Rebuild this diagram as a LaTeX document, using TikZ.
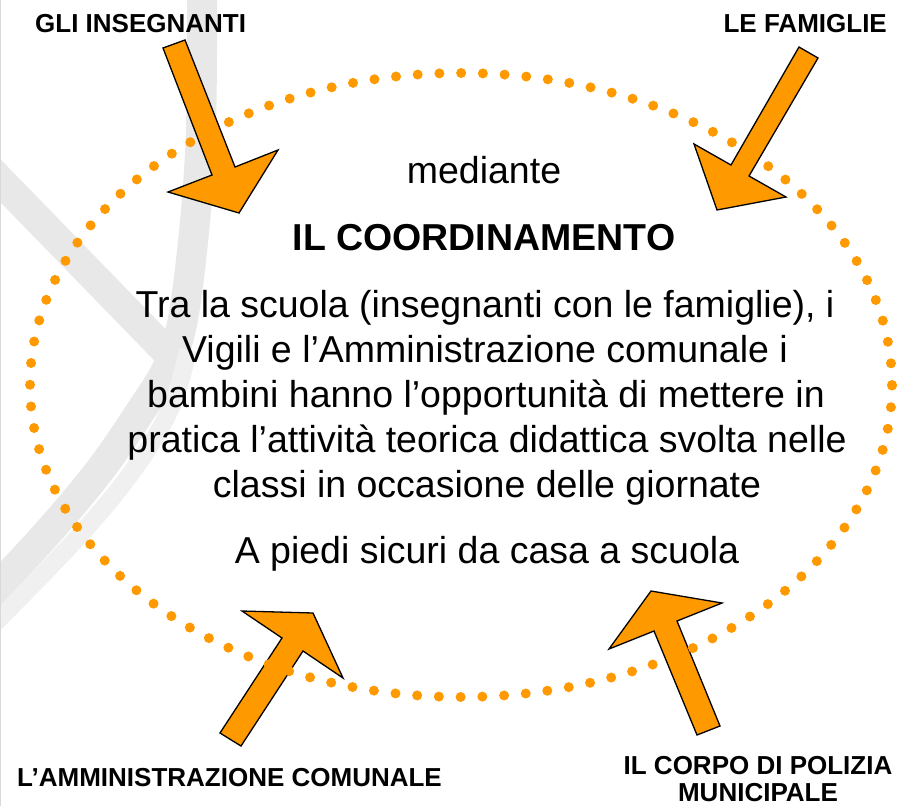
\documentclass[tikz,border=0pt]{standalone}
\usepackage{fontspec}
\setmainfont{Liberation Sans}
\definecolor{aor}{RGB}{255,153,0}
\definecolor{swg}{RGB}{232,232,232}
\definecolor{swl}{RGB}{240,240,240}
\begin{document}
\begin{tikzpicture}[x=1pt,y=-1pt,
  lab/.style={font=\fontsize{26}{29}\selectfont\bfseries, inner sep=0pt},
  body/.style={font=\fontsize{37.5}{45}\selectfont, inner sep=0pt},
  blockarrow/.style={fill=aor, draw=black, line width=1.3pt, line join=miter},
  swoosh/.style={draw=swg, line cap=butt, line join=round},
  dotring/.style={draw=aor, line width=10pt, line cap=round, dash pattern=on 0pt off 21.75pt}]
\useasboundingbox (0,0) rectangle (907,806);
\fill[white] (0,0) rectangle (907,806);
% background swooshes
\draw[swoosh, line width=30pt] plot[smooth, tension=0.6] coordinates {(202,-10) (200,154) (186,300) (170,362) (140,412) (100,470) (50,530) (-10,595)};
\draw[swoosh, line width=30pt] (-10,170) -- (165,350);
\draw[draw=swl, line width=18pt, line cap=butt] plot[smooth, tension=0.6] coordinates {(-10,628) (80,535) (137,465) (172,405) (188,350)};
\draw[gray!30, line width=0.8pt] (0.5,0) -- (0.5,806);
% block arrows
\draw[blockarrow] (163,48) -- (185,40) -- (235,167) -- (278,150) -- (239,213) -- (168,192) -- (212,175) -- cycle;
\draw[blockarrow] (799,47) -- (818,58) -- (749,176) -- (786,197) -- (717,210) -- (694,144) -- (731,165) -- cycle;
\draw[blockarrow] (220,733) -- (282,638) -- (242,611) -- (313,613) -- (343,678) -- (303,651) -- (241,746) -- cycle;
\draw[blockarrow] (697,735) -- (654,631) -- (609,649) -- (651,591) -- (722,603) -- (677,621) -- (720,726) -- cycle;
% dotted ring
\draw[dotring] (461,385) ellipse [x radius=431pt, y radius=312pt];
% labels
\node[lab, anchor=base west] (ins) at (35,32) {GLI INSEGNANTI};
\node[lab, anchor=base east] (fam) at (887,32) {LE FAMIGLIE};
\node[lab, anchor=base west] (amm) at (17,786) {L’AMMINISTRAZIONE COMUNALE};
\node[lab, anchor=base] (pol1) at (758,774) {IL CORPO DI POLIZIA};
\node[lab, anchor=base] (pol2) at (758,801) {MUNICIPALE};
% central text
\node[body, anchor=base] (med) at (484,183) {mediante};
\node[body, anchor=base, font=\fontsize{37.5}{45}\selectfont\bfseries] (coord) at (484,250) {IL COORDINAMENTO};
\node[body, anchor=base] (t1) at (485,317) {Tra la scuola (insegnanti con le famiglie), i};
\node[body, anchor=base] (t2) at (485,362) {Vigili e l’Amministrazione comunale i};
\node[body, anchor=base] (t3) at (486,407) {bambini hanno l’opportunità di mettere in};
\node[body, anchor=base] (t4) at (487,452) {pratica l’attività teorica didattica svolta nelle};
\node[body, anchor=base] (t5) at (487,497) {classi in occasione delle giornate};
\node[body, anchor=base] (t6) at (487,563) {A piedi sicuri da casa a scuola};
\end{tikzpicture}
\end{document}
